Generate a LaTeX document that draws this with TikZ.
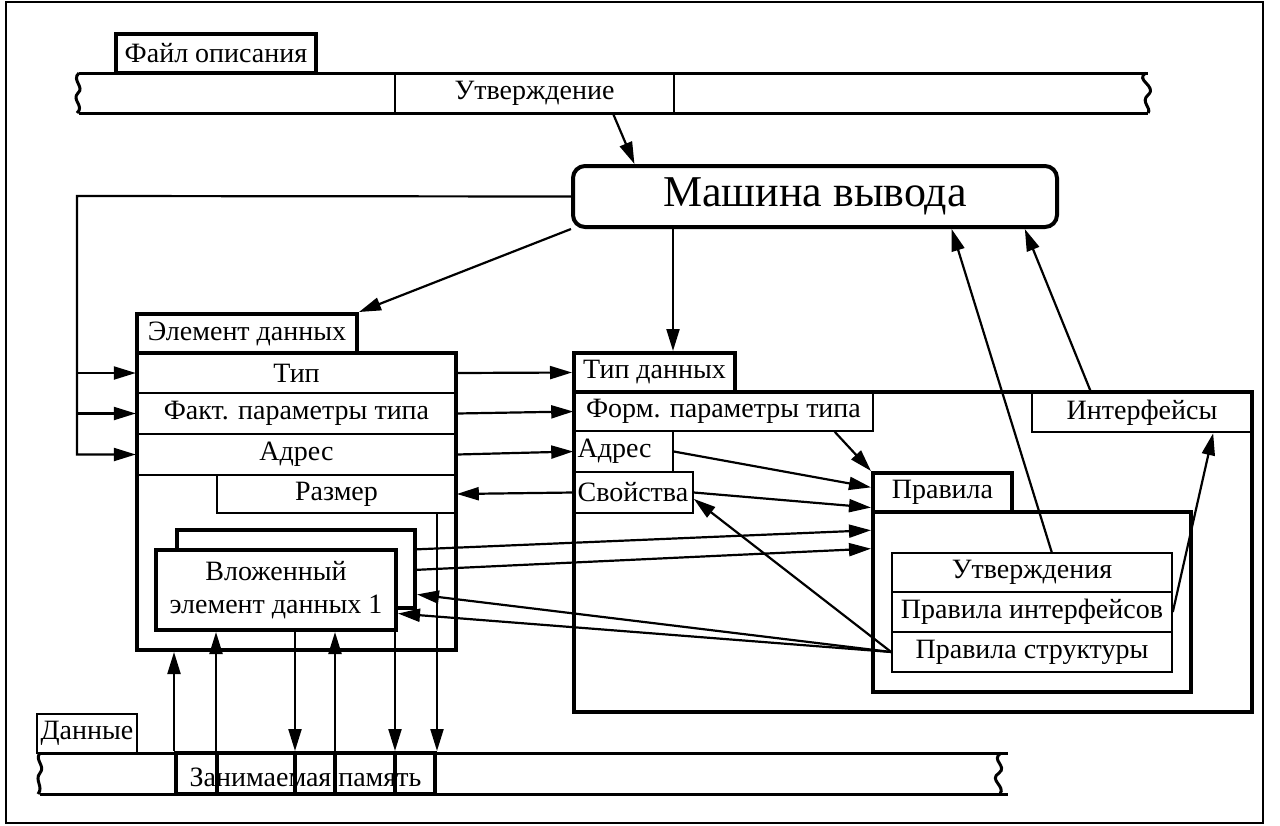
\documentclass[tikz,border=0pt]{standalone}
\usepackage{fontspec}
\setmainfont{Liberation Serif}
\usetikzlibrary{arrows.meta,fit,calc}
\newcommand\dglbl{\fontsize{14}{16.5}\selectfont}
\newcommand\dgbig{\fontsize{22}{26}\selectfont}
\tikzset{
  dg/cell/.style={draw, line width=0.8pt, inner sep=0pt},
  dg/mid/.style={draw, line width=1.2pt, inner sep=0pt},
  dg/heavy/.style={draw, line width=2pt, inner sep=0pt},
  dg/txt/.style={label={[font=\dglbl, align=center]center:#1}},
  dg/tape/.style={line width=1.5pt},
  dg/arr/.style={-{Triangle[length=11pt,width=6.5pt]}, line width=1.1pt}
}

\begin{document}
\begin{tikzpicture}[x=0.5pt, y=-0.5pt]
  \useasboundingbox (0,0) rectangle (1280,825);
  \draw[line width=0.8pt] (6,2) rectangle (1263,823);

  % description file tape
  \draw[dg/tape] (79,73) -- (1148,73) (79,113) -- (1148,113);
  \draw[dg/tape] (79,73) .. controls (71,80) and (85,87) .. (78,93)
    .. controls (71,100) and (85,106) .. (77,113);
  \draw[dg/tape] (1146,73) .. controls (1134,80) and (1158,86) .. (1148,95)
    .. controls (1140,102) and (1152,108) .. (1148,113);
  \node[dg/heavy, dg/txt=Файл описания, fit={(116,34) (316,73)}] (ftab) {};
  \node[dg/mid, dg/txt=Утверждение, fit={(395,73) (674,113)}] (claim) {};

  \node[dg/heavy, rounded corners=6pt, fit={(573,166) (1057,227)},
    label={[font=\dgbig]center:Машина вывода}] (engine) {};

  % data element
  \node[dg/heavy, dg/txt=Элемент данных, fit={(137,314) (357,353)}] (eltab) {};
  \node[dg/heavy, fit={(137,353) (456,650)}] (elem) {};
  \node[dg/mid, dg/txt=Тип, fit={(137,353) (456,393)}] (rtype) {};
  \node[dg/mid, dg/txt=Факт. параметры типа, fit={(137,393) (456,434)}] (rfact) {};
  \node[dg/mid, dg/txt=Адрес, fit={(137,434) (456,475)}] (raddr) {};
  \node[dg/cell, dg/txt=Размер, fit={(217,475) (456,513)}] (rsize) {};
  \node[dg/heavy, fit={(177,530) (415,608)}] (nestb) {};
  \node[dg/heavy, fill=white, dg/txt={Вложенный\\элемент данных 1}, fit={(156,550) (396,630)}] (nestf) {};

  % data type
  \node[dg/heavy, dg/txt=Тип данных, fit={(574,353) (735,392)}] (tdtab) {};
  \node[dg/heavy, fit={(574,392) (1252,712)}] (tdbody) {};
  \node[dg/cell, dg/txt=Форм. параметры типа, fit={(574,392) (873,431)}] (fparm) {};
  \node[dg/cell, fit={(574,431) (673,472)},
    label={[font=\dglbl, anchor=west, inner sep=2pt]west:Адрес}] (taddr) {};
  \node[dg/cell, fit={(574,472) (693,513)},
    label={[font=\dglbl, anchor=west, inner sep=2pt]west:Свойства}] (props) {};
  \node[dg/mid, dg/txt=Интерфейсы, fit={(1032,393) (1252,432)}] (intf) {};

  % rules
  \node[dg/heavy, dg/txt=Правила, fit={(873,473) (1012,512)}] (rtab) {};
  \node[dg/heavy, fit={(873,512) (1191,692)}] (rbody) {};
  \node[dg/cell, dg/txt=Утверждения, fit={(892,553) (1172,592)}] (rstmt) {};
  \node[dg/cell, dg/txt=Правила интерфейсов, fit={(892,592) (1172,632)}] (rintf) {};
  \node[dg/cell, dg/txt=Правила структуры, fit={(892,632) (1172,672)}] (rstruct) {};

  % data tape
  \draw[dg/tape] (40,753) -- (1008,753) (40,794) -- (1008,794);
  \draw[dg/tape] (40,753) .. controls (34,760) and (46,766) .. (40,773)
    .. controls (34,780) and (44,787) .. (38,794);
  \draw[dg/tape] (1001,753) .. controls (990,760) and (1008,766) .. (999,773)
    .. controls (988,780) and (1006,786) .. (1000,794);
  \node[dg/cell, dg/txt=Данные, fit={(37,714) (137,753)}] (dtab) {};
  \node[dg/heavy, fit={(176,753) (435,794)}] (mem) {};
  \foreach \x in {217,295,335,395}
    \draw[line width=2pt] (\x,753) -- (\x,794);
  \node[font=\dglbl] at ([yshift=-2pt]mem.center) {Занимаемая память};

  % connectors
  \draw[dg/arr] ($(claim.south)!0.56!(claim.south east)$) -- ($(engine.north west)!0.13!(engine.north east)$);
  \draw[dg/arr] (engine.south west) -- (eltab.north east);
  \coordinate (fb) at (77,196);
  \draw[dg/arr] (engine.west) -- (fb) |- (raddr.west);
  \draw[dg/arr] (fb |- rtype.west) -- (rtype.west);
  \draw[dg/arr] (fb |- rfact.west) -- (rfact.west);
  \coordinate (dn) at (673,0);
  \draw[dg/arr] (engine.south -| dn) -- (tdtab.north -| dn);
  \draw[dg/arr] (rtype.east) -- (tdtab.west);
  \draw[dg/arr] (rfact.east) -- (fparm.west);
  \draw[dg/arr] (raddr.east) -- (taddr.west);
  \draw[dg/arr] (props.west) -- (rsize.east);
  \draw[dg/arr] ($(fparm.south west)!0.87!(fparm.south east)$) -- (rtab.north west);
  \draw[dg/arr] (taddr.east) -- ($(rtab.north west)!0.38!(rtab.south west)$);
  \draw[dg/arr] (props.east) -- ($(rtab.north west)!0.85!(rtab.south west)$);
  \draw[dg/arr] ($(nestb.north east)!0.26!(nestb.south east)$) -- ($(rbody.north west)!0.11!(rbody.south west)$);
  \draw[dg/arr] ($(nestb.north east)!0.51!(nestb.south east)$) -- ($(rbody.north west)!0.21!(rbody.south west)$);
  \draw[dg/arr] (rstruct.west) -- ($(nestb.north east)!0.81!(nestb.south east)$);
  \draw[dg/arr] (rstruct.west) -- ($(nestf.north east)!0.78!(nestf.south east)$);
  \draw[dg/arr] (rstruct.west) -- ($(props.east)!0.3!(props.south east)$);
  \draw[dg/arr] ($(rstmt.north)!0.14!(rstmt.north east)$) -- ($(engine.south west)!0.78!(engine.south east)$);
  \draw[dg/arr] (rintf.east) -- ($(intf.south west)!0.82!(intf.south east)$);
  \draw[dg/arr] ($(intf.north west)!0.27!(intf.north east)$) -- ($(engine.south west)!0.93!(engine.south east)$);
  \draw[dg/arr] (mem.north west) -- (elem.south -| mem.north west);
  \foreach \x in {216,335}
    \draw[dg/arr] (mem.north -| \x,0) -- (nestf.south -| \x,0);
  \foreach \x in {295,395}
    \draw[dg/arr] (nestf.south -| \x,0) -- (mem.north -| \x,0);
  \draw[dg/arr] (rsize.south -| mem.north east) -- (mem.north east);
\end{tikzpicture}
\end{document}
